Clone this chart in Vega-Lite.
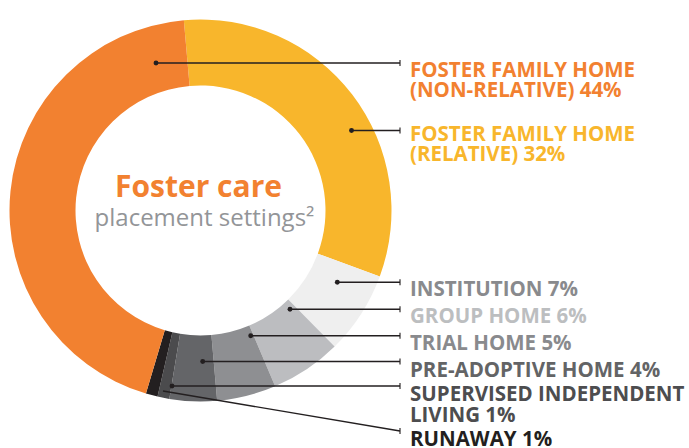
{
  "$schema": "https://vega.github.io/schema/vega-lite/v6.json",
  "width": 401,
  "height": 421,
  "padding": 0,
  "autosize": {"type": "pad"},
  "background": "white",
  "config": {"view": {"stroke": null}},
  "datasets": {
    "slices": [
      {"setting": "Foster family home (relative)", "share": 32, "seq": 1},
      {"setting": "Institution", "share": 7, "seq": 2},
      {"setting": "Group home", "share": 6, "seq": 3},
      {"setting": "Trial home", "share": 5, "seq": 4},
      {"setting": "Pre-adoptive home", "share": 4, "seq": 5},
      {"setting": "Supervised independent living", "share": 1, "seq": 6},
      {"setting": "Runaway", "share": 1, "seq": 7},
      {"setting": "Foster family home (non-relative)", "share": 44, "seq": 8}
    ],
    "callouts": [
      {"setting": "Foster family home (non-relative)", "label": "FOSTER FAMILY HOME\n(NON-RELATIVE) 44%", "dotX": 156, "dotY": 63, "endY": 63, "textY": 76.5},
      {"setting": "Foster family home (relative)", "label": "FOSTER FAMILY HOME\n(RELATIVE) 32%", "dotX": 351.5, "dotY": 130.5, "endY": 130.5, "textY": 140.5},
      {"setting": "Institution", "label": "INSTITUTION 7%", "dotX": 337.3, "dotY": 282.3, "endY": 282.3, "textY": 296},
      {"setting": "Group home", "label": "GROUP HOME 6%", "dotX": 290, "dotY": 309.3, "endY": 309.3, "textY": 323.3},
      {"setting": "Trial home", "label": "TRIAL HOME 5%", "dotX": 250.7, "dotY": 335.7, "endY": 335.7, "textY": 350},
      {"setting": "Pre-adoptive home", "label": "PRE-ADOPTIVE HOME 4%", "dotX": 202.7, "dotY": 361.5, "endY": 361.5, "textY": 377},
      {"setting": "Supervised independent living", "label": "SUPERVISED INDEPENDENT\nLIVING 1%", "dotX": 172, "dotY": 386, "endY": 386, "textY": 401},
      {"setting": "Runaway", "label": "RUNAWAY 1%", "dotX": 163, "dotY": 391, "endY": 431, "textY": 445.5}
    ]
  },
  "layer": [
    {
      "data": {"name": "slices"},
      "mark": {"type": "arc", "innerRadius": 125, "outerRadius": 191},
      "encoding": {
        "theta": {"field": "share", "type": "quantitative", "stack": true, "scale": {"range": [-0.0873, 6.1959]}},
        "order": {"field": "seq", "type": "quantitative", "sort": "ascending"},
        "fill": {
          "field": "setting", "type": "nominal", "legend": null,
          "scale": {
            "domain": ["Foster family home (relative)", "Institution", "Group home", "Trial home", "Pre-adoptive home", "Supervised independent living", "Runaway", "Foster family home (non-relative)"],
            "range": ["#F8B62C", "#EFEFEF", "#BCBDC0", "#8E8F92", "#646568", "#4B4B4D", "#231F20", "#F28130"]
          }
        }
      }
    },
    {
      "data": {"name": "callouts"},
      "mark": {"type": "rule", "color": "#231F20", "strokeWidth": 1.4},
      "encoding": {
        "x": {"field": "dotX", "type": "quantitative", "scale": {"domain": [0, 401], "nice": false, "zero": false}, "axis": null},
        "x2": {"datum": 400},
        "y": {"field": "dotY", "type": "quantitative", "scale": {"domain": [0, 421], "nice": false, "zero": false, "reverse": true}, "axis": null},
        "y2": {"field": "endY"}
      }
    },
    {
      "data": {"name": "callouts"},
      "mark": {"type": "tick", "orient": "vertical", "color": "#231F20", "size": 6, "thickness": 1.6},
      "encoding": {
        "x": {"datum": 400, "type": "quantitative"},
        "y": {"field": "endY", "type": "quantitative"}
      }
    },
    {
      "data": {"name": "callouts"},
      "transform": [{"filter": "datum.setting !== 'Runaway'"}],
      "mark": {"type": "circle", "color": "#231F20", "opacity": 1, "size": 24},
      "encoding": {
        "x": {"field": "dotX", "type": "quantitative"},
        "y": {"field": "dotY", "type": "quantitative"}
      }
    },
    {
      "data": {"name": "callouts"},
      "mark": {"type": "text", "align": "left", "baseline": "alphabetic", "font": "Open Sans", "fontWeight": "bold", "fontSize": 20.5, "lineBreak": "\n", "lineHeight": 20.5},
      "encoding": {
        "x": {"datum": 410, "type": "quantitative"},
        "y": {"field": "textY", "type": "quantitative"},
        "text": {"field": "label"},
        "color": {
          "field": "setting", "type": "nominal", "legend": null,
          "scale": {
            "domain": ["Foster family home (non-relative)", "Foster family home (relative)", "Institution", "Group home", "Trial home", "Pre-adoptive home", "Supervised independent living", "Runaway"],
            "range": ["#F28130", "#F8B62C", "#898A8D", "#BCBEC0", "#898A8D", "#636466", "#4D4D4F", "#231F20"]
          }
        }
      }
    },
    {
      "data": {"values": [{"title": "Foster care"}]},
      "mark": {"type": "text", "align": "center", "baseline": "alphabetic", "font": "Open Sans", "fontWeight": "bold", "fontSize": 30, "color": "#F28130", "dx": -2, "dy": -13.8},
      "encoding": {"text": {"field": "title"}}
    },
    {
      "data": {"values": [{"subtitle": "placement settings²"}]},
      "mark": {"type": "text", "align": "center", "baseline": "alphabetic", "font": "Open Sans", "fontSize": 24, "color": "#939598", "dx": 4, "dy": 15.5},
      "encoding": {"text": {"field": "subtitle"}}
    }
  ]
}
